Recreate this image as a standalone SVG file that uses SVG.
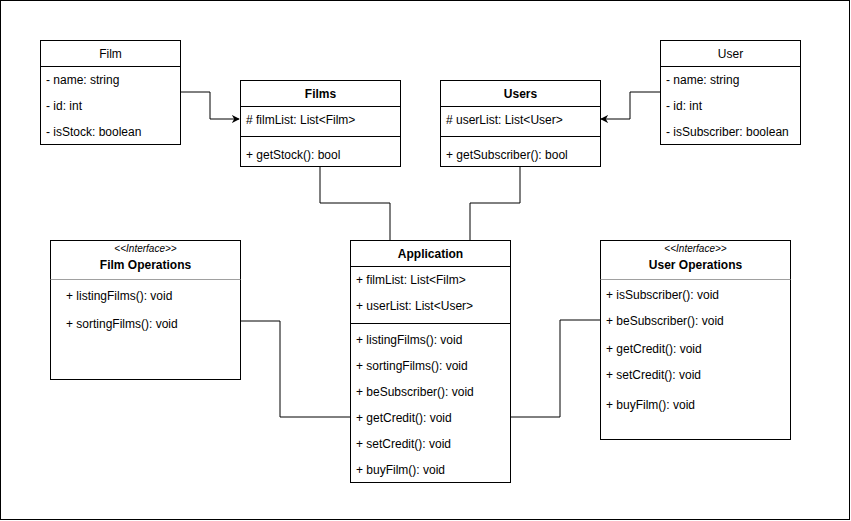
<svg xmlns="http://www.w3.org/2000/svg" width="851" height="521" viewBox="0 0 851 521">
  <style>
    .box { fill: #fff; stroke: #000; stroke-width: 1; }
    .sep { stroke: #000; stroke-width: 1; }
    .sepg { stroke: #a0a0a0; stroke-width: 1; }
    .t { font-family: "Liberation Sans", Arial, sans-serif; font-size: 12px; fill: #000; }
    .h { font-family: "Liberation Sans", Arial, sans-serif; font-size: 12px; fill: #000; text-anchor: middle; }
    .b { font-weight: bold; }
    .st { font-family: "Liberation Sans", Arial, sans-serif; font-size: 10px; font-style: italic; fill: #000; text-anchor: middle; }
    .wire { fill: none; stroke: #000; stroke-width: 1; }
  </style>
  <defs>
    <marker id="arrow" viewBox="0 0 10 10" refX="9" refY="5" markerWidth="8" markerHeight="8" markerUnits="userSpaceOnUse" orient="auto">
      <path d="M0,0 L10,5 L0,10 L3,5 Z" fill="#000"/>
    </marker>
  </defs>

  <rect x="0.5" y="0.5" width="849" height="519" fill="#fff" stroke="#000"/>

  <g id="connectors">
    <polyline class="wire" points="180,92 210,92 210,119 239,119" marker-end="url(#arrow)"/>
    <polyline class="wire" points="660,92 630,92 630,119 601,119" marker-end="url(#arrow)"/>
    <polyline class="wire" points="320,166 320,203 390,203 390,240"/>
    <polyline class="wire" points="520,166 520,203 470,203 470,240"/>
    <polyline class="wire" points="240,321 280,321 280,417 350,417"/>
    <polyline class="wire" points="600,320 560,320 560,417 510,417"/>
  </g>

  <g id="film">
    <rect class="box" x="40.5" y="40.5" width="140" height="104"/>
    <line class="sep" x1="40.5" y1="66.5" x2="180.5" y2="66.5"/>
    <text class="h" x="110.5" y="58">Film</text>
    <text class="t" x="46" y="84">- name: string</text>
    <text class="t" x="46" y="110">- id: int</text>
    <text class="t" x="46" y="136">- isStock: boolean</text>
  </g>

  <g id="films">
    <rect class="box" x="240.5" y="80.5" width="160" height="86"/>
    <line class="sep" x1="240.5" y1="106.5" x2="400.5" y2="106.5"/>
    <line class="sep" x1="240.5" y1="136.5" x2="400.5" y2="136.5"/>
    <text class="h b" x="320.5" y="98">Films</text>
    <text class="t" x="246" y="124"># filmList: List&lt;Film&gt;</text>
    <text class="t" x="246" y="159">+ getStock(): bool</text>
  </g>

  <g id="users">
    <rect class="box" x="440.5" y="80.5" width="160" height="86"/>
    <line class="sep" x1="440.5" y1="106.5" x2="600.5" y2="106.5"/>
    <line class="sep" x1="440.5" y1="136.5" x2="600.5" y2="136.5"/>
    <text class="h b" x="520.5" y="98">Users</text>
    <text class="t" x="446" y="124"># userList: List&lt;User&gt;</text>
    <text class="t" x="446" y="159">+ getSubscriber(): bool</text>
  </g>

  <g id="user">
    <rect class="box" x="660.5" y="40.5" width="140" height="104"/>
    <line class="sep" x1="660.5" y1="66.5" x2="800.5" y2="66.5"/>
    <text class="h" x="730.5" y="58">User</text>
    <text class="t" x="666" y="84">- name: string</text>
    <text class="t" x="666" y="110">- id: int</text>
    <text class="t" x="666" y="136">- isSubscriber: boolean</text>
  </g>

  <g id="film-operations">
    <rect class="box" x="50.5" y="240.5" width="190" height="139"/>
    <line class="sepg" x1="50.5" y1="279.5" x2="240.5" y2="279.5"/>
    <text class="st" x="145.5" y="252">&lt;&lt;Interface&gt;&gt;</text>
    <text class="h b" x="145.5" y="269">Film Operations</text>
    <text class="t" x="66" y="300">+ listingFilms(): void</text>
    <text class="t" x="66" y="328">+ sortingFilms(): void</text>
  </g>

  <g id="application">
    <rect class="box" x="350.5" y="240.5" width="160" height="242"/>
    <line class="sep" x1="350.5" y1="266.5" x2="510.5" y2="266.5"/>
    <line class="sep" x1="350.5" y1="323.5" x2="510.5" y2="323.5"/>
    <text class="h b" x="430.5" y="258">Application</text>
    <text class="t" x="356" y="284">+ filmList: List&lt;Film&gt;</text>
    <text class="t" x="356" y="310">+ userList: List&lt;User&gt;</text>
    <text class="t" x="356" y="344">+ listingFilms(): void</text>
    <text class="t" x="356" y="370">+ sortingFilms(): void</text>
    <text class="t" x="356" y="396">+ beSubscriber(): void</text>
    <text class="t" x="356" y="422">+ getCredit(): void</text>
    <text class="t" x="356" y="448">+ setCredit(): void</text>
    <text class="t" x="356" y="474">+ buyFilm(): void</text>
  </g>

  <g id="user-operations">
    <rect class="box" x="600.5" y="240.5" width="190" height="199"/>
    <line class="sepg" x1="600.5" y1="279.5" x2="790.5" y2="279.5"/>
    <text class="st" x="695.5" y="252">&lt;&lt;Interface&gt;&gt;</text>
    <text class="h b" x="695.5" y="269">User Operations</text>
    <text class="t" x="606" y="299">+ isSubscriber(): void</text>
    <text class="t" x="606" y="325">+ beSubscriber(): void</text>
    <text class="t" x="606" y="353">+ getCredit(): void</text>
    <text class="t" x="606" y="379">+ setCredit(): void</text>
    <text class="t" x="606" y="409">+ buyFilm(): void</text>
  </g>
</svg>
